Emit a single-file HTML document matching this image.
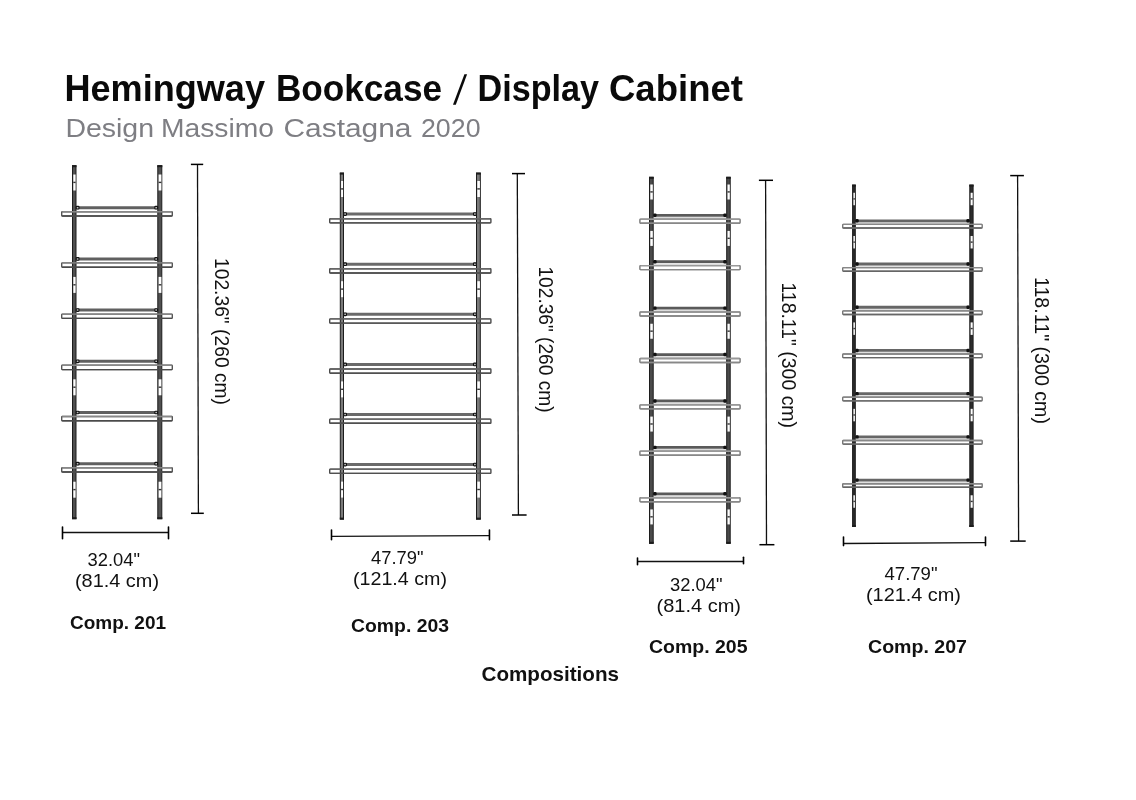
<!DOCTYPE html>
<html><head><meta charset="utf-8"><style>
html,body{margin:0;padding:0;background:#fff;width:1136px;height:800px;overflow:hidden}
svg{display:block;will-change:transform}
text{font-family:"Liberation Sans",sans-serif}
</style></head><body>
<svg width="1136" height="800" viewBox="0 0 1136 800">
<rect width="1136" height="800" fill="#fff"/>
<rect x="72.5" y="165.7" width="3.5" height="353" fill="#505050" stroke="#1c1c1c" stroke-width="1"/>
<rect x="72" y="165.2" width="4.5" height="2" fill="#1c1c1c"/>
<rect x="72" y="517.2" width="4.5" height="2" fill="#1c1c1c"/>
<rect x="73.3" y="174.5" width="2.3" height="16" fill="#fff"/>
<rect x="73.3" y="181.7" width="2.3" height="1.4" fill="#333"/>
<rect x="73.3" y="276.9" width="2.3" height="16" fill="#fff"/>
<rect x="73.3" y="284.1" width="2.3" height="1.4" fill="#333"/>
<rect x="73.3" y="379.3" width="2.3" height="16" fill="#fff"/>
<rect x="73.3" y="386.5" width="2.3" height="1.4" fill="#333"/>
<rect x="73.3" y="481.7" width="2.3" height="16" fill="#fff"/>
<rect x="73.3" y="488.9" width="2.3" height="1.4" fill="#333"/>
<rect x="157.8" y="165.7" width="4" height="353" fill="#505050" stroke="#1c1c1c" stroke-width="1"/>
<rect x="157.3" y="165.2" width="5" height="2" fill="#1c1c1c"/>
<rect x="157.3" y="517.2" width="5" height="2" fill="#1c1c1c"/>
<rect x="158.6" y="174.5" width="2.8" height="16" fill="#fff"/>
<rect x="158.6" y="181.7" width="2.8" height="1.4" fill="#333"/>
<rect x="158.6" y="276.9" width="2.8" height="16" fill="#fff"/>
<rect x="158.6" y="284.1" width="2.8" height="1.4" fill="#333"/>
<rect x="158.6" y="379.3" width="2.8" height="16" fill="#fff"/>
<rect x="158.6" y="386.5" width="2.8" height="1.4" fill="#333"/>
<rect x="158.6" y="481.7" width="2.8" height="16" fill="#fff"/>
<rect x="158.6" y="488.9" width="2.8" height="1.4" fill="#333"/>
<rect x="61.7" y="211.7" width="110.6" height="4.3" rx="0.6" fill="none" stroke="#555" stroke-width="1.4"/>
<line x1="62.2" y1="211.7" x2="171.8" y2="211.7" stroke="#888" stroke-width="1.4"/>
<line x1="62.2" y1="216" x2="171.8" y2="216" stroke="#4a4a4a" stroke-width="1.4"/>
<line x1="76.5" y1="207.7" x2="157.3" y2="207.7" stroke="#606060" stroke-width="3.0"/>
<rect x="76.2" y="206.4" width="2.8" height="2.6" rx="0.8" fill="#bbb" stroke="#111" stroke-width="1.1"/>
<rect x="154.8" y="206.4" width="2.8" height="2.6" rx="0.8" fill="#bbb" stroke="#111" stroke-width="1.1"/>
<rect x="61.7" y="262.9" width="110.6" height="4.3" rx="0.6" fill="none" stroke="#555" stroke-width="1.4"/>
<line x1="62.2" y1="262.9" x2="171.8" y2="262.9" stroke="#888" stroke-width="1.4"/>
<line x1="62.2" y1="267.2" x2="171.8" y2="267.2" stroke="#4a4a4a" stroke-width="1.4"/>
<line x1="76.5" y1="258.9" x2="157.3" y2="258.9" stroke="#606060" stroke-width="3.0"/>
<rect x="76.2" y="257.6" width="2.8" height="2.6" rx="0.8" fill="#bbb" stroke="#111" stroke-width="1.1"/>
<rect x="154.8" y="257.6" width="2.8" height="2.6" rx="0.8" fill="#bbb" stroke="#111" stroke-width="1.1"/>
<rect x="61.7" y="314.1" width="110.6" height="4.3" rx="0.6" fill="none" stroke="#555" stroke-width="1.4"/>
<line x1="62.2" y1="314.1" x2="171.8" y2="314.1" stroke="#888" stroke-width="1.4"/>
<line x1="62.2" y1="318.4" x2="171.8" y2="318.4" stroke="#4a4a4a" stroke-width="1.4"/>
<line x1="76.5" y1="310.1" x2="157.3" y2="310.1" stroke="#606060" stroke-width="3.0"/>
<rect x="76.2" y="308.8" width="2.8" height="2.6" rx="0.8" fill="#bbb" stroke="#111" stroke-width="1.1"/>
<rect x="154.8" y="308.8" width="2.8" height="2.6" rx="0.8" fill="#bbb" stroke="#111" stroke-width="1.1"/>
<rect x="61.7" y="365.3" width="110.6" height="4.3" rx="0.6" fill="none" stroke="#555" stroke-width="1.4"/>
<line x1="62.2" y1="365.3" x2="171.8" y2="365.3" stroke="#888" stroke-width="1.4"/>
<line x1="62.2" y1="369.6" x2="171.8" y2="369.6" stroke="#4a4a4a" stroke-width="1.4"/>
<line x1="76.5" y1="361.3" x2="157.3" y2="361.3" stroke="#606060" stroke-width="3.0"/>
<rect x="76.2" y="360" width="2.8" height="2.6" rx="0.8" fill="#bbb" stroke="#111" stroke-width="1.1"/>
<rect x="154.8" y="360" width="2.8" height="2.6" rx="0.8" fill="#bbb" stroke="#111" stroke-width="1.1"/>
<rect x="61.7" y="416.5" width="110.6" height="4.3" rx="0.6" fill="none" stroke="#555" stroke-width="1.4"/>
<line x1="62.2" y1="416.5" x2="171.8" y2="416.5" stroke="#888" stroke-width="1.4"/>
<line x1="62.2" y1="420.8" x2="171.8" y2="420.8" stroke="#4a4a4a" stroke-width="1.4"/>
<line x1="76.5" y1="412.5" x2="157.3" y2="412.5" stroke="#606060" stroke-width="3.0"/>
<rect x="76.2" y="411.2" width="2.8" height="2.6" rx="0.8" fill="#bbb" stroke="#111" stroke-width="1.1"/>
<rect x="154.8" y="411.2" width="2.8" height="2.6" rx="0.8" fill="#bbb" stroke="#111" stroke-width="1.1"/>
<rect x="61.7" y="467.7" width="110.6" height="4.3" rx="0.6" fill="none" stroke="#555" stroke-width="1.4"/>
<line x1="62.2" y1="467.7" x2="171.8" y2="467.7" stroke="#888" stroke-width="1.4"/>
<line x1="62.2" y1="472" x2="171.8" y2="472" stroke="#4a4a4a" stroke-width="1.4"/>
<line x1="76.5" y1="463.7" x2="157.3" y2="463.7" stroke="#606060" stroke-width="3.0"/>
<rect x="76.2" y="462.4" width="2.8" height="2.6" rx="0.8" fill="#bbb" stroke="#111" stroke-width="1.1"/>
<rect x="154.8" y="462.4" width="2.8" height="2.6" rx="0.8" fill="#bbb" stroke="#111" stroke-width="1.1"/>
<line x1="197.5" y1="164.4" x2="198.4" y2="513.3" stroke="#111" stroke-width="1.3"/>
<line x1="190.9" y1="164.4" x2="203.2" y2="164.4" stroke="#000" stroke-width="1.5"/>
<line x1="191" y1="513.3" x2="203.8" y2="513.3" stroke="#000" stroke-width="1.5"/>
<line x1="62.5" y1="532.45" x2="168.5" y2="532.45" stroke="#111" stroke-width="1.35"/>
<line x1="62.5" y1="527" x2="62.5" y2="538.75" stroke="#000" stroke-width="1.6" stroke-linecap="round"/>
<line x1="168.5" y1="527" x2="168.5" y2="538.75" stroke="#000" stroke-width="1.6" stroke-linecap="round"/>
<rect x="340.3" y="173.1" width="3.2" height="346" fill="#7a7a7a" stroke="#1c1c1c" stroke-width="1"/>
<rect x="339.8" y="172.6" width="4.2" height="2" fill="#1c1c1c"/>
<rect x="339.8" y="517.6" width="4.2" height="2" fill="#1c1c1c"/>
<rect x="341.1" y="181" width="2" height="16" fill="#fff"/>
<rect x="341.1" y="188.2" width="2" height="1.4" fill="#333"/>
<rect x="341.1" y="281.2" width="2" height="16" fill="#fff"/>
<rect x="341.1" y="288.4" width="2" height="1.4" fill="#333"/>
<rect x="341.1" y="381.4" width="2" height="16" fill="#fff"/>
<rect x="341.1" y="388.6" width="2" height="1.4" fill="#333"/>
<rect x="341.1" y="481.6" width="2" height="16" fill="#fff"/>
<rect x="341.1" y="488.8" width="2" height="1.4" fill="#333"/>
<rect x="476.5" y="173.1" width="3.8" height="346" fill="#7a7a7a" stroke="#1c1c1c" stroke-width="1"/>
<rect x="476" y="172.6" width="4.8" height="2" fill="#1c1c1c"/>
<rect x="476" y="517.6" width="4.8" height="2" fill="#1c1c1c"/>
<rect x="477.3" y="181" width="2.6" height="16" fill="#fff"/>
<rect x="477.3" y="188.2" width="2.6" height="1.4" fill="#333"/>
<rect x="477.3" y="281.2" width="2.6" height="16" fill="#fff"/>
<rect x="477.3" y="288.4" width="2.6" height="1.4" fill="#333"/>
<rect x="477.3" y="381.4" width="2.6" height="16" fill="#fff"/>
<rect x="477.3" y="388.6" width="2.6" height="1.4" fill="#333"/>
<rect x="477.3" y="481.6" width="2.6" height="16" fill="#fff"/>
<rect x="477.3" y="488.8" width="2.6" height="1.4" fill="#333"/>
<rect x="329.7" y="218.7" width="161.2" height="4.2" rx="0.6" fill="none" stroke="#4a4a4a" stroke-width="1.4"/>
<line x1="330.2" y1="218.7" x2="490.4" y2="218.7" stroke="#666" stroke-width="1.4"/>
<line x1="330.2" y1="222.9" x2="490.4" y2="222.9" stroke="#505050" stroke-width="1.4"/>
<line x1="344" y1="214.1" x2="476" y2="214.1" stroke="#6a6a6a" stroke-width="3.0"/>
<rect x="343.7" y="212.8" width="2.8" height="2.6" rx="0.8" fill="#bbb" stroke="#111" stroke-width="1.1"/>
<rect x="473.5" y="212.8" width="2.8" height="2.6" rx="0.8" fill="#bbb" stroke="#111" stroke-width="1.1"/>
<rect x="329.7" y="268.8" width="161.2" height="4.2" rx="0.6" fill="none" stroke="#4a4a4a" stroke-width="1.4"/>
<line x1="330.2" y1="268.8" x2="490.4" y2="268.8" stroke="#666" stroke-width="1.4"/>
<line x1="330.2" y1="273" x2="490.4" y2="273" stroke="#505050" stroke-width="1.4"/>
<line x1="344" y1="264.2" x2="476" y2="264.2" stroke="#6a6a6a" stroke-width="3.0"/>
<rect x="343.7" y="262.9" width="2.8" height="2.6" rx="0.8" fill="#bbb" stroke="#111" stroke-width="1.1"/>
<rect x="473.5" y="262.9" width="2.8" height="2.6" rx="0.8" fill="#bbb" stroke="#111" stroke-width="1.1"/>
<rect x="329.7" y="318.9" width="161.2" height="4.2" rx="0.6" fill="none" stroke="#4a4a4a" stroke-width="1.4"/>
<line x1="330.2" y1="318.9" x2="490.4" y2="318.9" stroke="#666" stroke-width="1.4"/>
<line x1="330.2" y1="323.1" x2="490.4" y2="323.1" stroke="#505050" stroke-width="1.4"/>
<line x1="344" y1="314.3" x2="476" y2="314.3" stroke="#6a6a6a" stroke-width="3.0"/>
<rect x="343.7" y="313" width="2.8" height="2.6" rx="0.8" fill="#bbb" stroke="#111" stroke-width="1.1"/>
<rect x="473.5" y="313" width="2.8" height="2.6" rx="0.8" fill="#bbb" stroke="#111" stroke-width="1.1"/>
<rect x="329.7" y="369" width="161.2" height="4.2" rx="0.6" fill="none" stroke="#4a4a4a" stroke-width="1.4"/>
<line x1="330.2" y1="369" x2="490.4" y2="369" stroke="#666" stroke-width="1.4"/>
<line x1="330.2" y1="373.2" x2="490.4" y2="373.2" stroke="#505050" stroke-width="1.4"/>
<line x1="344" y1="364.4" x2="476" y2="364.4" stroke="#6a6a6a" stroke-width="3.0"/>
<rect x="343.7" y="363.1" width="2.8" height="2.6" rx="0.8" fill="#bbb" stroke="#111" stroke-width="1.1"/>
<rect x="473.5" y="363.1" width="2.8" height="2.6" rx="0.8" fill="#bbb" stroke="#111" stroke-width="1.1"/>
<rect x="329.7" y="419.1" width="161.2" height="4.2" rx="0.6" fill="none" stroke="#4a4a4a" stroke-width="1.4"/>
<line x1="330.2" y1="419.1" x2="490.4" y2="419.1" stroke="#666" stroke-width="1.4"/>
<line x1="330.2" y1="423.3" x2="490.4" y2="423.3" stroke="#505050" stroke-width="1.4"/>
<line x1="344" y1="414.5" x2="476" y2="414.5" stroke="#6a6a6a" stroke-width="3.0"/>
<rect x="343.7" y="413.2" width="2.8" height="2.6" rx="0.8" fill="#bbb" stroke="#111" stroke-width="1.1"/>
<rect x="473.5" y="413.2" width="2.8" height="2.6" rx="0.8" fill="#bbb" stroke="#111" stroke-width="1.1"/>
<rect x="329.7" y="469.2" width="161.2" height="4.2" rx="0.6" fill="none" stroke="#4a4a4a" stroke-width="1.4"/>
<line x1="330.2" y1="469.2" x2="490.4" y2="469.2" stroke="#666" stroke-width="1.4"/>
<line x1="330.2" y1="473.4" x2="490.4" y2="473.4" stroke="#505050" stroke-width="1.4"/>
<line x1="344" y1="464.6" x2="476" y2="464.6" stroke="#6a6a6a" stroke-width="3.0"/>
<rect x="343.7" y="463.3" width="2.8" height="2.6" rx="0.8" fill="#bbb" stroke="#111" stroke-width="1.1"/>
<rect x="473.5" y="463.3" width="2.8" height="2.6" rx="0.8" fill="#bbb" stroke="#111" stroke-width="1.1"/>
<line x1="517.3" y1="173.6" x2="518.4" y2="515" stroke="#111" stroke-width="1.3"/>
<line x1="512" y1="173.6" x2="525" y2="173.6" stroke="#000" stroke-width="1.5"/>
<line x1="512" y1="515" x2="526.6" y2="515" stroke="#000" stroke-width="1.5"/>
<line x1="331.5" y1="536.4" x2="489.45" y2="535.6" stroke="#111" stroke-width="1.35"/>
<line x1="331.5" y1="530" x2="331.5" y2="539.75" stroke="#000" stroke-width="1.6" stroke-linecap="round"/>
<line x1="489.45" y1="530" x2="489.45" y2="539.75" stroke="#000" stroke-width="1.6" stroke-linecap="round"/>
<rect x="649.5" y="177.3" width="3.7" height="366" fill="#4a4a4a" stroke="#1c1c1c" stroke-width="1"/>
<rect x="649" y="176.8" width="4.7" height="2" fill="#1c1c1c"/>
<rect x="649" y="541.8" width="4.7" height="2" fill="#1c1c1c"/>
<rect x="650.3" y="184.5" width="2.5" height="15" fill="#fff"/>
<rect x="650.3" y="191.2" width="2.5" height="1.4" fill="#333"/>
<rect x="650.3" y="230.92" width="2.5" height="15" fill="#fff"/>
<rect x="650.3" y="237.62" width="2.5" height="1.4" fill="#333"/>
<rect x="650.3" y="323.75" width="2.5" height="15" fill="#fff"/>
<rect x="650.3" y="330.45" width="2.5" height="1.4" fill="#333"/>
<rect x="650.3" y="416.58" width="2.5" height="15" fill="#fff"/>
<rect x="650.3" y="423.28" width="2.5" height="1.4" fill="#333"/>
<rect x="650.3" y="509.42" width="2.5" height="15" fill="#fff"/>
<rect x="650.3" y="516.12" width="2.5" height="1.4" fill="#333"/>
<rect x="726.7" y="177.3" width="3.5" height="366" fill="#4a4a4a" stroke="#1c1c1c" stroke-width="1"/>
<rect x="726.2" y="176.8" width="4.5" height="2" fill="#1c1c1c"/>
<rect x="726.2" y="541.8" width="4.5" height="2" fill="#1c1c1c"/>
<rect x="727.5" y="184.5" width="2.3" height="15" fill="#fff"/>
<rect x="727.5" y="191.2" width="2.3" height="1.4" fill="#333"/>
<rect x="727.5" y="230.92" width="2.3" height="15" fill="#fff"/>
<rect x="727.5" y="237.62" width="2.3" height="1.4" fill="#333"/>
<rect x="727.5" y="323.75" width="2.3" height="15" fill="#fff"/>
<rect x="727.5" y="330.45" width="2.3" height="1.4" fill="#333"/>
<rect x="727.5" y="416.58" width="2.3" height="15" fill="#fff"/>
<rect x="727.5" y="423.28" width="2.3" height="1.4" fill="#333"/>
<rect x="727.5" y="509.42" width="2.3" height="15" fill="#fff"/>
<rect x="727.5" y="516.12" width="2.3" height="1.4" fill="#333"/>
<line x1="653.7" y1="217.9" x2="726.2" y2="217.9" stroke="#dcdcdc" stroke-width="2"/>
<rect x="639.9" y="219.2" width="100.2" height="4" rx="0.6" fill="none" stroke="#777" stroke-width="1.4"/>
<line x1="640.4" y1="219.2" x2="739.6" y2="219.2" stroke="#999" stroke-width="1.4"/>
<line x1="640.4" y1="223.2" x2="739.6" y2="223.2" stroke="#888" stroke-width="1.4"/>
<line x1="653.7" y1="215.3" x2="726.2" y2="215.3" stroke="#5a5a5a" stroke-width="2.8"/>
<rect x="653.2" y="213.6" width="3.4" height="3.4" rx="1.2" fill="#111"/>
<rect x="723.3" y="213.6" width="3.4" height="3.4" rx="1.2" fill="#111"/>
<line x1="653.7" y1="264.32" x2="726.2" y2="264.32" stroke="#dcdcdc" stroke-width="2"/>
<rect x="639.9" y="265.62" width="100.2" height="4" rx="0.6" fill="none" stroke="#777" stroke-width="1.4"/>
<line x1="640.4" y1="265.62" x2="739.6" y2="265.62" stroke="#999" stroke-width="1.4"/>
<line x1="640.4" y1="269.62" x2="739.6" y2="269.62" stroke="#888" stroke-width="1.4"/>
<line x1="653.7" y1="261.72" x2="726.2" y2="261.72" stroke="#5a5a5a" stroke-width="2.8"/>
<rect x="653.2" y="260.02" width="3.4" height="3.4" rx="1.2" fill="#111"/>
<rect x="723.3" y="260.02" width="3.4" height="3.4" rx="1.2" fill="#111"/>
<line x1="653.7" y1="310.73" x2="726.2" y2="310.73" stroke="#dcdcdc" stroke-width="2"/>
<rect x="639.9" y="312.03" width="100.2" height="4" rx="0.6" fill="none" stroke="#777" stroke-width="1.4"/>
<line x1="640.4" y1="312.03" x2="739.6" y2="312.03" stroke="#999" stroke-width="1.4"/>
<line x1="640.4" y1="316.03" x2="739.6" y2="316.03" stroke="#888" stroke-width="1.4"/>
<line x1="653.7" y1="308.13" x2="726.2" y2="308.13" stroke="#5a5a5a" stroke-width="2.8"/>
<rect x="653.2" y="306.43" width="3.4" height="3.4" rx="1.2" fill="#111"/>
<rect x="723.3" y="306.43" width="3.4" height="3.4" rx="1.2" fill="#111"/>
<line x1="653.7" y1="357.15" x2="726.2" y2="357.15" stroke="#dcdcdc" stroke-width="2"/>
<rect x="639.9" y="358.45" width="100.2" height="4" rx="0.6" fill="none" stroke="#777" stroke-width="1.4"/>
<line x1="640.4" y1="358.45" x2="739.6" y2="358.45" stroke="#999" stroke-width="1.4"/>
<line x1="640.4" y1="362.45" x2="739.6" y2="362.45" stroke="#888" stroke-width="1.4"/>
<line x1="653.7" y1="354.55" x2="726.2" y2="354.55" stroke="#5a5a5a" stroke-width="2.8"/>
<rect x="653.2" y="352.85" width="3.4" height="3.4" rx="1.2" fill="#111"/>
<rect x="723.3" y="352.85" width="3.4" height="3.4" rx="1.2" fill="#111"/>
<line x1="653.7" y1="403.57" x2="726.2" y2="403.57" stroke="#dcdcdc" stroke-width="2"/>
<rect x="639.9" y="404.87" width="100.2" height="4" rx="0.6" fill="none" stroke="#777" stroke-width="1.4"/>
<line x1="640.4" y1="404.87" x2="739.6" y2="404.87" stroke="#999" stroke-width="1.4"/>
<line x1="640.4" y1="408.87" x2="739.6" y2="408.87" stroke="#888" stroke-width="1.4"/>
<line x1="653.7" y1="400.97" x2="726.2" y2="400.97" stroke="#5a5a5a" stroke-width="2.8"/>
<rect x="653.2" y="399.27" width="3.4" height="3.4" rx="1.2" fill="#111"/>
<rect x="723.3" y="399.27" width="3.4" height="3.4" rx="1.2" fill="#111"/>
<line x1="653.7" y1="449.98" x2="726.2" y2="449.98" stroke="#dcdcdc" stroke-width="2"/>
<rect x="639.9" y="451.28" width="100.2" height="4" rx="0.6" fill="none" stroke="#777" stroke-width="1.4"/>
<line x1="640.4" y1="451.28" x2="739.6" y2="451.28" stroke="#999" stroke-width="1.4"/>
<line x1="640.4" y1="455.28" x2="739.6" y2="455.28" stroke="#888" stroke-width="1.4"/>
<line x1="653.7" y1="447.38" x2="726.2" y2="447.38" stroke="#5a5a5a" stroke-width="2.8"/>
<rect x="653.2" y="445.68" width="3.4" height="3.4" rx="1.2" fill="#111"/>
<rect x="723.3" y="445.68" width="3.4" height="3.4" rx="1.2" fill="#111"/>
<line x1="653.7" y1="496.4" x2="726.2" y2="496.4" stroke="#dcdcdc" stroke-width="2"/>
<rect x="639.9" y="497.7" width="100.2" height="4" rx="0.6" fill="none" stroke="#777" stroke-width="1.4"/>
<line x1="640.4" y1="497.7" x2="739.6" y2="497.7" stroke="#999" stroke-width="1.4"/>
<line x1="640.4" y1="501.7" x2="739.6" y2="501.7" stroke="#888" stroke-width="1.4"/>
<line x1="653.7" y1="493.8" x2="726.2" y2="493.8" stroke="#5a5a5a" stroke-width="2.8"/>
<rect x="653.2" y="492.1" width="3.4" height="3.4" rx="1.2" fill="#111"/>
<rect x="723.3" y="492.1" width="3.4" height="3.4" rx="1.2" fill="#111"/>
<line x1="765.6" y1="180.3" x2="766.5" y2="544.7" stroke="#111" stroke-width="1.3"/>
<line x1="758.9" y1="180.3" x2="773" y2="180.3" stroke="#000" stroke-width="1.5"/>
<line x1="759.4" y1="544.7" x2="774.4" y2="544.7" stroke="#000" stroke-width="1.5"/>
<line x1="637.5" y1="561.45" x2="743.5" y2="561.5" stroke="#111" stroke-width="1.35"/>
<line x1="637.5" y1="558.1" x2="637.5" y2="564.75" stroke="#000" stroke-width="1.6" stroke-linecap="round"/>
<line x1="743.5" y1="557.25" x2="743.5" y2="563.75" stroke="#000" stroke-width="1.6" stroke-linecap="round"/>
<rect x="852.6" y="185.1" width="2.7" height="341.4" fill="#2c2c2c" stroke="#1c1c1c" stroke-width="1"/>
<rect x="852.1" y="184.6" width="3.7" height="2" fill="#1c1c1c"/>
<rect x="852.1" y="525" width="3.7" height="2" fill="#1c1c1c"/>
<rect x="853.4" y="192.75" width="1.5" height="12.5" fill="#fff"/>
<rect x="853.4" y="198.2" width="1.5" height="1.4" fill="#333"/>
<rect x="853.4" y="235.97" width="1.5" height="12.5" fill="#fff"/>
<rect x="853.4" y="241.42" width="1.5" height="1.4" fill="#333"/>
<rect x="853.4" y="322.4" width="1.5" height="12.5" fill="#fff"/>
<rect x="853.4" y="327.85" width="1.5" height="1.4" fill="#333"/>
<rect x="853.4" y="408.83" width="1.5" height="12.5" fill="#fff"/>
<rect x="853.4" y="414.28" width="1.5" height="1.4" fill="#333"/>
<rect x="853.4" y="495.27" width="1.5" height="12.5" fill="#fff"/>
<rect x="853.4" y="500.72" width="1.5" height="1.4" fill="#333"/>
<rect x="969.8" y="185.1" width="3.3" height="341.4" fill="#2c2c2c" stroke="#1c1c1c" stroke-width="1"/>
<rect x="969.3" y="184.6" width="4.3" height="2" fill="#1c1c1c"/>
<rect x="969.3" y="525" width="4.3" height="2" fill="#1c1c1c"/>
<rect x="970.6" y="192.75" width="2.1" height="12.5" fill="#fff"/>
<rect x="970.6" y="198.2" width="2.1" height="1.4" fill="#333"/>
<rect x="970.6" y="235.97" width="2.1" height="12.5" fill="#fff"/>
<rect x="970.6" y="241.42" width="2.1" height="1.4" fill="#333"/>
<rect x="970.6" y="322.4" width="2.1" height="12.5" fill="#fff"/>
<rect x="970.6" y="327.85" width="2.1" height="1.4" fill="#333"/>
<rect x="970.6" y="408.83" width="2.1" height="12.5" fill="#fff"/>
<rect x="970.6" y="414.28" width="2.1" height="1.4" fill="#333"/>
<rect x="970.6" y="495.27" width="2.1" height="12.5" fill="#fff"/>
<rect x="970.6" y="500.72" width="2.1" height="1.4" fill="#333"/>
<line x1="855.8" y1="223.1" x2="969.3" y2="223.1" stroke="#e0e0e0" stroke-width="2"/>
<rect x="842.7" y="224.4" width="139.5" height="3.6" rx="0.6" fill="none" stroke="#777" stroke-width="1.4"/>
<line x1="843.2" y1="224.4" x2="981.7" y2="224.4" stroke="#888" stroke-width="1.4"/>
<line x1="843.2" y1="228" x2="981.7" y2="228" stroke="#666" stroke-width="1.4"/>
<line x1="855.8" y1="220.8" x2="969.3" y2="220.8" stroke="#666" stroke-width="2.8"/>
<rect x="855.3" y="219.1" width="3.4" height="3.4" rx="1.2" fill="#111"/>
<rect x="966.4" y="219.1" width="3.4" height="3.4" rx="1.2" fill="#111"/>
<line x1="855.8" y1="266.32" x2="969.3" y2="266.32" stroke="#e0e0e0" stroke-width="2"/>
<rect x="842.7" y="267.62" width="139.5" height="3.6" rx="0.6" fill="none" stroke="#777" stroke-width="1.4"/>
<line x1="843.2" y1="267.62" x2="981.7" y2="267.62" stroke="#888" stroke-width="1.4"/>
<line x1="843.2" y1="271.22" x2="981.7" y2="271.22" stroke="#666" stroke-width="1.4"/>
<line x1="855.8" y1="264.02" x2="969.3" y2="264.02" stroke="#666" stroke-width="2.8"/>
<rect x="855.3" y="262.32" width="3.4" height="3.4" rx="1.2" fill="#111"/>
<rect x="966.4" y="262.32" width="3.4" height="3.4" rx="1.2" fill="#111"/>
<line x1="855.8" y1="309.53" x2="969.3" y2="309.53" stroke="#e0e0e0" stroke-width="2"/>
<rect x="842.7" y="310.83" width="139.5" height="3.6" rx="0.6" fill="none" stroke="#777" stroke-width="1.4"/>
<line x1="843.2" y1="310.83" x2="981.7" y2="310.83" stroke="#888" stroke-width="1.4"/>
<line x1="843.2" y1="314.43" x2="981.7" y2="314.43" stroke="#666" stroke-width="1.4"/>
<line x1="855.8" y1="307.23" x2="969.3" y2="307.23" stroke="#666" stroke-width="2.8"/>
<rect x="855.3" y="305.53" width="3.4" height="3.4" rx="1.2" fill="#111"/>
<rect x="966.4" y="305.53" width="3.4" height="3.4" rx="1.2" fill="#111"/>
<line x1="855.8" y1="352.75" x2="969.3" y2="352.75" stroke="#e0e0e0" stroke-width="2"/>
<rect x="842.7" y="354.05" width="139.5" height="3.6" rx="0.6" fill="none" stroke="#777" stroke-width="1.4"/>
<line x1="843.2" y1="354.05" x2="981.7" y2="354.05" stroke="#888" stroke-width="1.4"/>
<line x1="843.2" y1="357.65" x2="981.7" y2="357.65" stroke="#666" stroke-width="1.4"/>
<line x1="855.8" y1="350.45" x2="969.3" y2="350.45" stroke="#666" stroke-width="2.8"/>
<rect x="855.3" y="348.75" width="3.4" height="3.4" rx="1.2" fill="#111"/>
<rect x="966.4" y="348.75" width="3.4" height="3.4" rx="1.2" fill="#111"/>
<line x1="855.8" y1="395.97" x2="969.3" y2="395.97" stroke="#e0e0e0" stroke-width="2"/>
<rect x="842.7" y="397.27" width="139.5" height="3.6" rx="0.6" fill="none" stroke="#777" stroke-width="1.4"/>
<line x1="843.2" y1="397.27" x2="981.7" y2="397.27" stroke="#888" stroke-width="1.4"/>
<line x1="843.2" y1="400.87" x2="981.7" y2="400.87" stroke="#666" stroke-width="1.4"/>
<line x1="855.8" y1="393.67" x2="969.3" y2="393.67" stroke="#666" stroke-width="2.8"/>
<rect x="855.3" y="391.97" width="3.4" height="3.4" rx="1.2" fill="#111"/>
<rect x="966.4" y="391.97" width="3.4" height="3.4" rx="1.2" fill="#111"/>
<line x1="855.8" y1="439.18" x2="969.3" y2="439.18" stroke="#e0e0e0" stroke-width="2"/>
<rect x="842.7" y="440.48" width="139.5" height="3.6" rx="0.6" fill="none" stroke="#777" stroke-width="1.4"/>
<line x1="843.2" y1="440.48" x2="981.7" y2="440.48" stroke="#888" stroke-width="1.4"/>
<line x1="843.2" y1="444.08" x2="981.7" y2="444.08" stroke="#666" stroke-width="1.4"/>
<line x1="855.8" y1="436.88" x2="969.3" y2="436.88" stroke="#666" stroke-width="2.8"/>
<rect x="855.3" y="435.18" width="3.4" height="3.4" rx="1.2" fill="#111"/>
<rect x="966.4" y="435.18" width="3.4" height="3.4" rx="1.2" fill="#111"/>
<line x1="855.8" y1="482.4" x2="969.3" y2="482.4" stroke="#e0e0e0" stroke-width="2"/>
<rect x="842.7" y="483.7" width="139.5" height="3.6" rx="0.6" fill="none" stroke="#777" stroke-width="1.4"/>
<line x1="843.2" y1="483.7" x2="981.7" y2="483.7" stroke="#888" stroke-width="1.4"/>
<line x1="843.2" y1="487.3" x2="981.7" y2="487.3" stroke="#666" stroke-width="1.4"/>
<line x1="855.8" y1="480.1" x2="969.3" y2="480.1" stroke="#666" stroke-width="2.8"/>
<rect x="855.3" y="478.4" width="3.4" height="3.4" rx="1.2" fill="#111"/>
<rect x="966.4" y="478.4" width="3.4" height="3.4" rx="1.2" fill="#111"/>
<line x1="1017.6" y1="175.6" x2="1018.6" y2="541.1" stroke="#111" stroke-width="1.3"/>
<line x1="1010.2" y1="175.6" x2="1023.9" y2="175.6" stroke="#000" stroke-width="1.5"/>
<line x1="1010.2" y1="541.1" x2="1025.7" y2="541.1" stroke="#000" stroke-width="1.5"/>
<line x1="843.5" y1="543.45" x2="985.5" y2="542.6" stroke="#111" stroke-width="1.35"/>
<line x1="843.5" y1="537.1" x2="843.5" y2="545.6" stroke="#000" stroke-width="1.6" stroke-linecap="round"/>
<line x1="985.5" y1="537.1" x2="985.5" y2="545.6" stroke="#000" stroke-width="1.6" stroke-linecap="round"/>
<polygon points="464.4,74.2 467.1,74.2 455.8,104.8 453,104.8" fill="#0a0a0a"/>
<text x="64.49" y="100.8" font-size="37" font-weight="bold" fill="#0a0a0a" textLength="200.52" lengthAdjust="spacingAndGlyphs">Hemingway</text>
<text x="275.97" y="100.8" font-size="37" font-weight="bold" fill="#0a0a0a" textLength="166.04" lengthAdjust="spacingAndGlyphs">Bookcase</text>
<text x="477.47" y="100.8" font-size="37" font-weight="bold" fill="#0a0a0a" textLength="121.53" lengthAdjust="spacingAndGlyphs">Display</text>
<text x="608.98" y="100.8" font-size="37" font-weight="bold" fill="#0a0a0a" textLength="134.03" lengthAdjust="spacingAndGlyphs">Cabinet</text>
<text x="65.41" y="136.8" font-size="26.3" font-weight="normal" fill="#7e7e83" textLength="88.63" lengthAdjust="spacingAndGlyphs">Design</text>
<text x="160.96" y="136.8" font-size="26.3" font-weight="normal" fill="#7e7e83" textLength="113.06" lengthAdjust="spacingAndGlyphs">Massimo</text>
<text x="283.49" y="136.8" font-size="26.3" font-weight="normal" fill="#7e7e83" textLength="128.01" lengthAdjust="spacingAndGlyphs">Castagna</text>
<text x="420.97" y="136.8" font-size="26.3" font-weight="normal" fill="#7e7e83" textLength="59.56" lengthAdjust="spacingAndGlyphs">2020</text>
<text x="87.48" y="565.8" font-size="18.5" font-weight="normal" fill="#111" textLength="52.52" lengthAdjust="spacingAndGlyphs">32.04&quot;</text>
<text x="74.97" y="587.3" font-size="18.5" font-weight="normal" fill="#111" textLength="84.05" lengthAdjust="spacingAndGlyphs">(81.4 cm)</text>
<text x="370.99" y="564" font-size="18.5" font-weight="normal" fill="#111" textLength="52.53" lengthAdjust="spacingAndGlyphs">47.79&quot;</text>
<text x="352.98" y="584.9" font-size="18.5" font-weight="normal" fill="#111" textLength="94.03" lengthAdjust="spacingAndGlyphs">(121.4 cm)</text>
<text x="670" y="590.9" font-size="18.5" font-weight="normal" fill="#111" textLength="52.51" lengthAdjust="spacingAndGlyphs">32.04&quot;</text>
<text x="656.48" y="611.9" font-size="18.5" font-weight="normal" fill="#111" textLength="84.54" lengthAdjust="spacingAndGlyphs">(81.4 cm)</text>
<text x="884.5" y="579.5" font-size="18.5" font-weight="normal" fill="#111" textLength="53.01" lengthAdjust="spacingAndGlyphs">47.79&quot;</text>
<text x="865.98" y="601.4" font-size="18.5" font-weight="normal" fill="#111" textLength="95.03" lengthAdjust="spacingAndGlyphs">(121.4 cm)</text>
<text x="70" y="628.8" font-size="18" font-weight="bold" fill="#111" textLength="96" lengthAdjust="spacingAndGlyphs">Comp. 201</text>
<text x="351" y="631.6" font-size="18" font-weight="bold" fill="#111" textLength="98" lengthAdjust="spacingAndGlyphs">Comp. 203</text>
<text x="648.99" y="652.5" font-size="18" font-weight="bold" fill="#111" textLength="98.52" lengthAdjust="spacingAndGlyphs">Comp. 205</text>
<text x="868" y="652.8" font-size="18" font-weight="bold" fill="#111" textLength="99.01" lengthAdjust="spacingAndGlyphs">Comp. 207</text>
<text x="481.49" y="680.7" font-size="21" font-weight="bold" fill="#111" textLength="137.52" lengthAdjust="spacingAndGlyphs">Compositions</text>
<text transform="translate(214.8,257.99) rotate(90)" font-size="20.5" fill="#111" textLength="147.03" lengthAdjust="spacingAndGlyphs">102.36&quot; (260 cm)</text>
<text transform="translate(539.3,266.48) rotate(90)" font-size="20.5" fill="#111" textLength="146.03" lengthAdjust="spacingAndGlyphs">102.36&quot; (260 cm)</text>
<text transform="translate(782,282.48) rotate(90)" font-size="20.5" fill="#111" textLength="145.53" lengthAdjust="spacingAndGlyphs">118.11&quot; (300 cm)</text>
<text transform="translate(1035,276.99) rotate(90)" font-size="20.5" fill="#111" textLength="147.03" lengthAdjust="spacingAndGlyphs">118.11&quot; (300 cm)</text>
</svg>
</body></html>
